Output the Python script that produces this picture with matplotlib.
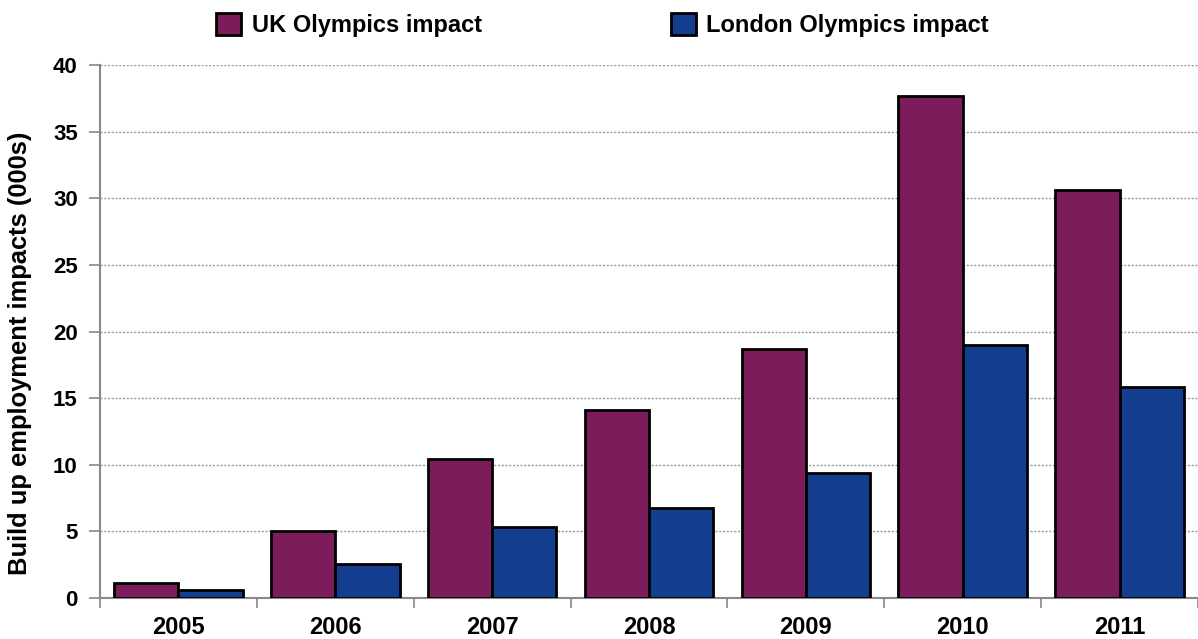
import matplotlib
matplotlib.use("Agg")
import matplotlib.pyplot as plt
import numpy as np

years = ["2005", "2006", "2007", "2008", "2009", "2010", "2011"]
uk_impact = [1.1, 5.0, 10.4, 14.1, 18.7, 37.7, 30.6]
london_impact = [0.6, 2.55, 5.3, 6.75, 9.4, 18.95, 15.8]
y_ticks = [0, 5, 10, 15, 20, 25, 30, 35, 40]

plt.rcParams["font.family"] = ["Liberation Sans", "DejaVu Sans"]
plt.rcParams["font.weight"] = "bold"

fig = plt.figure(figsize=(11.98, 6.39), dpi=100)
ax = fig.add_axes([100 / 1198, 1 - 598 / 639, 1 - 100 / 1198, (598 - 65) / 639])

x = np.arange(len(years))
w = 0.41
uk_color = "#7D1C5B"
ldn_color = "#143F91"
b1 = ax.bar(x - w / 2, uk_impact, w, color=uk_color, edgecolor="black",
            linewidth=2, label="UK Olympics impact", zorder=3)
b2 = ax.bar(x + w / 2, london_impact, w, color=ldn_color, edgecolor="black",
            linewidth=2, label="London Olympics impact", zorder=3)

ax.set_xlim(-0.5, len(years) - 0.5)
ax.set_ylim(0, 40)
ax.set_yticks(y_ticks)
ax.set_yticklabels([str(t) for t in y_ticks], fontsize=16, fontweight="bold")
ax.set_xticks(x)
ax.set_xticklabels(years, fontsize=17, fontweight="bold")
ax.tick_params(axis="x", which="major", length=0, pad=13)
ax.set_xticks(np.arange(-0.5, len(years), 1.0), minor=True)
ax.tick_params(axis="x", which="minor", length=7, width=1.2, color="#888888")
ax.tick_params(axis="y", length=8, width=1.2, color="#888888", pad=8)

for s in ["top", "right"]:
    ax.spines[s].set_visible(False)
for s in ["left", "bottom"]:
    ax.spines[s].set_color("#888888")
    ax.spines[s].set_linewidth(1.5)

ax.yaxis.grid(True, linestyle=(0, (1.5, 1.2)), color="#9a9a9a", linewidth=1.0, zorder=0)
ax.set_axisbelow(True)

ax.set_ylabel("Build up employment impacts (000s)", fontsize=18.4, fontweight="bold")
ax.yaxis.set_label_coords(-0.062, 0.46)

fig.legend(handles=[b1, b2], loc="center", bbox_to_anchor=(0.503, 0.961), ncol=2,
           frameon=False, handlelength=1.06, handleheight=1.1,
           columnspacing=8, handletextpad=0.45, prop={"weight": "bold", "size": 17})

fig.savefig("out.png", dpi=100)
